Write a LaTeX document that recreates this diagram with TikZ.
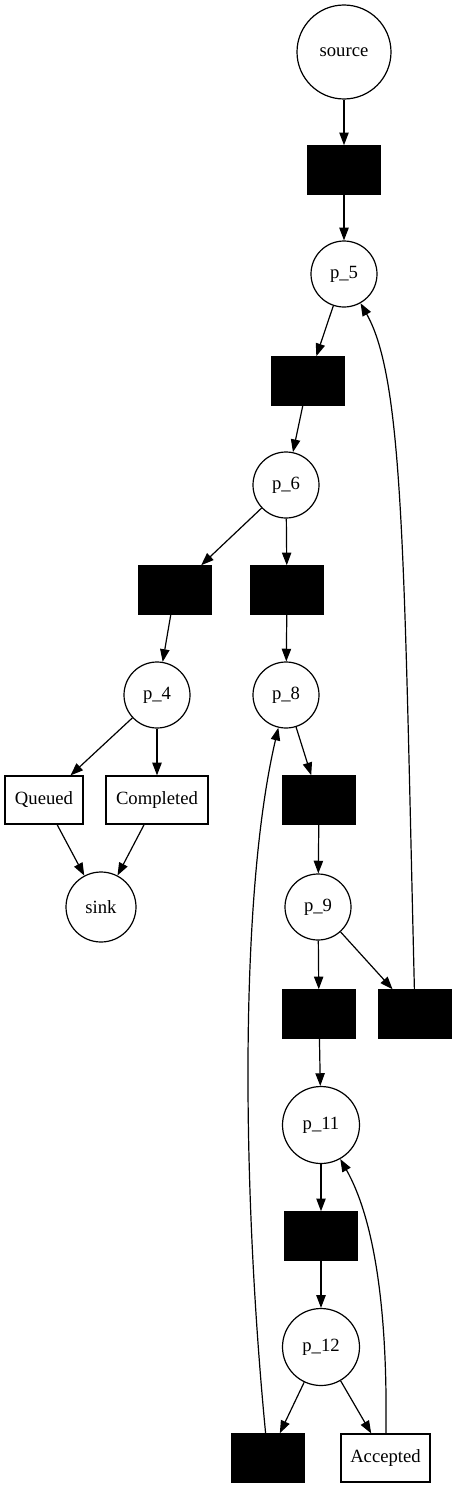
\documentclass[tikz,border=0pt]{standalone}
\usepackage{fontspec}
\setmainfont{Liberation Serif}
\usepackage{tikz}
\usetikzlibrary{shapes,arrows.meta}

\begin{document}
\begin{tikzpicture}[
    x=0.75pt, y=-0.75pt,
    every node/.style={font=\fontsize{14}{16}\selectfont},
    placecirc/.style={circle, draw, line width=0.9pt, minimum size=49.5pt, inner sep=0pt},
    transbox/.style={rectangle, draw, fill=black, minimum width=54.75pt, minimum height=36.75pt, inner sep=0pt},
    labelbox/.style={rectangle, draw, line width=0.9pt, minimum height=36pt, inner sep=0pt, align=center},
    arrow/.style={-{Triangle[length=9.5pt, width=7pt]}, line width=0.9pt}
]
    \useasboundingbox (0,0) rectangle (456,1488);

    % Places
    \node[placecirc, minimum size=70.5pt] (source) at (344,52) {source};
    \node[placecirc] (p5) at (344,274) {p\_5};
    \node[placecirc] (p6) at (286,485) {p\_6};
    \node[placecirc] (p4) at (157,695) {p\_4};
    \node[placecirc] (p8) at (286,695) {p\_8};
    \node[placecirc, minimum size=52.5pt] (sink) at (101,907) {sink};
    \node[placecirc] (p9) at (318,907) {p\_9};
    \node[placecirc, minimum size=57.75pt] (p11) at (321,1125) {p\_11};
    \node[placecirc, minimum size=57.75pt] (p12) at (321,1347) {p\_12};

    % Silent transitions
    \node[transbox] (t1) at (344,170) {};
    \node[transbox] (t2) at (308,381) {};
    \node[transbox] (t3) at (175,590) {};
    \node[transbox] (t4) at (287,590) {};
    \node[transbox] (t5) at (319,800) {};
    \node[transbox] (t6) at (319,1014) {};
    \node[transbox] (t7) at (415,1014) {};
    \node[transbox] (t8) at (321,1236) {};
    \node[transbox] (t9) at (268,1458) {};

    % Labelled transitions
    \node[labelbox, minimum width=58.5pt] (queued) at (44,800) {Queued};
    \node[labelbox, minimum width=76.5pt] (completed) at (157,800) {Completed};
    \node[labelbox, minimum width=66.75pt] (accepted) at (385.5,1458) {Accepted};

    % Arcs
    \draw[arrow] (source) -- (t1);
    \draw[arrow] (t1) -- (p5);
    \draw[arrow] (p5) -- (t2);
    \draw[arrow] (t2) -- (p6);
    \draw[arrow] (p6) -- (t3);
    \draw[arrow] (p6) -- (t4);
    \draw[arrow] (t3) -- (p4);
    \draw[arrow] (t4) -- (p8);
    \draw[arrow] (p4) -- (queued);
    \draw[arrow] (p4) -- (completed);
    \draw[arrow] (queued) -- (sink);
    \draw[arrow] (completed) -- (sink);
    \draw[arrow] (p8) -- (t5);
    \draw[arrow] (t5) -- (p9);
    \draw[arrow] (p9) -- (t6);
    \draw[arrow] (p9) -- (t7);
    \draw[arrow] (t6) -- (p11);
    \draw[arrow] (p11) -- (t8);
    \draw[arrow] (t8) -- (p12);
    \draw[arrow] (p12) -- (t9);
    \draw[arrow] (p12) -- (accepted);

    % Loops back
    \draw[arrow] (t7) .. controls (404,560) and (404,380) .. (p5);
    \draw[arrow] (t9) .. controls (243,1200) and (238,900) .. (p8);
    \draw[arrow] (accepted) .. controls (388,1300) and (372,1215) .. (p11);

\end{tikzpicture}
\end{document}
